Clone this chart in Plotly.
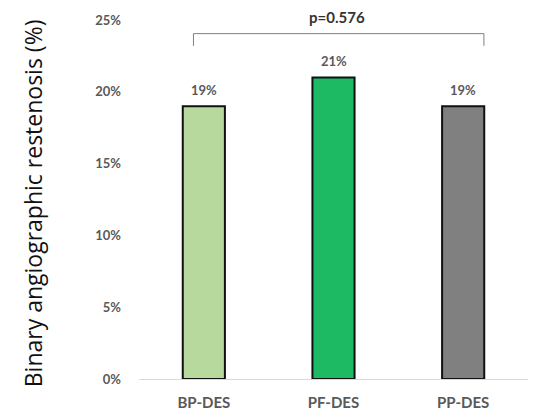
import plotly.graph_objects as go

categories = ["BP-DES", "PF-DES", "PP-DES"]
values = [19, 21, 19]
value_labels = ["19%", "21%", "19%"]
colors = ["#b7d99e", "#1db963", "#808080"]
y_ticks = [0, 5, 10, 15, 20, 25]
y_tick_labels = ["0%", "5%", "10%", "15%", "20%", "25%"]
p_text = "p=0.576"
y_title = "Binary angiographic restenosis (%)"

gray = "#595959"
fnt = "Lato"

fig = go.Figure()
fig.add_trace(go.Bar(
    x=categories, y=values,
    marker=dict(color=colors, line=dict(color="#111111", width=2)),
    width=0.325,
    hoverinfo="skip",
))

for c, v, t in zip(categories, values, value_labels):
    fig.add_annotation(x=c, y=v, text=f"<b>{t}</b>", showarrow=False,
                       yshift=16, font=dict(family=fnt, size=13, color=gray))

# bracket
yb, yt = 23.2, 24.05
fig.add_shape(type="path", xref="x", yref="y",
              path=f"M -0.08 {yb} L -0.08 {yt} L 2.16 {yt} L 2.16 {yb}",
              line=dict(color="#7f7f7f", width=1))
fig.add_annotation(x=1.03, y=1.008, xref="x", yref="paper", text=f"<b>{p_text}</b>",
                   xanchor="center", yanchor="middle",
                   showarrow=False, font=dict(family=fnt, size=15, color="#333333"))

fig.add_annotation(x=-0.272, y=0.49, xref="paper", yref="paper", text=y_title,
                   xanchor="center", yanchor="middle",
                   textangle=-90, showarrow=False,
                   font=dict(family="Open Sans", size=23, color="#111111"))

fig.update_layout(
    width=532, height=408,
    margin=dict(l=131, r=12, t=12, b=37),
    plot_bgcolor="white", paper_bgcolor="white",
    showlegend=False,
    xaxis=dict(showline=True, linecolor="#d9d9d9", linewidth=1, ticks="",
               tickfont=dict(family=fnt, size=15, color=gray),
               ticklabelstandoff=10, automargin=False,
               showgrid=False, fixedrange=True),
    yaxis=dict(range=[0, 25], tickvals=y_ticks, ticktext=[f"<b>{t}</b>" for t in y_tick_labels],
               showgrid=False, zeroline=False, showline=False, ticks="",
               tickfont=dict(family=fnt, size=13, color=gray), ticklabelstandoff=17,
               automargin=False),
)
fig.update_xaxes(tickvals=categories, ticktext=[f"<b>{c}</b>" for c in categories])

fig.write_html("out.html")
